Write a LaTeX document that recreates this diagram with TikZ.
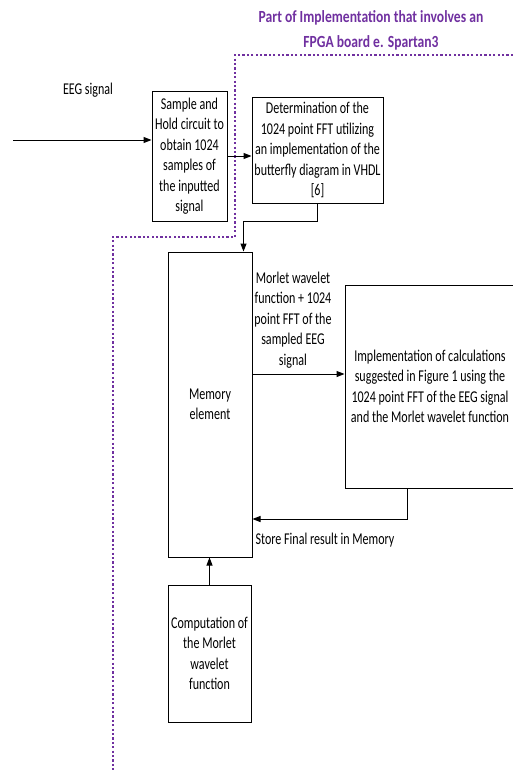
\documentclass[tikz,border=0pt]{standalone}
\usepackage{fontspec}
\setmainfont[FakeStretch=0.73]{Carlito}
\newfontfamily\titlefont[FakeStretch=0.8]{Carlito}
\usepackage{tikz}
\usetikzlibrary{arrows.meta}
\definecolor{FPGAPurple}{HTML}{7030A0}

\begin{document}
\begin{tikzpicture}[x=1pt,y=-1pt,>={Triangle[length=8pt,width=6pt]}]
  \tikzstyle{blk}=[draw,line width=1pt,inner sep=0pt,align=center,
    font=\fontsize{16.5}{20.5}\selectfont]
  \tikzstyle{lbl}=[inner sep=0pt,align=center,
    font=\fontsize{16.5}{20.5}\selectfont]
  \tikzstyle{flow}=[->,line width=1pt]
  \useasboundingbox (0,0) rectangle (513,771);
  % FPGA boundary
  \node[lbl,text=FPGAPurple,font=\titlefont\bfseries\fontsize{17}{25}\selectfont] (fpga)
    at (371,30) {Part of Implementation that involves an\\FPGA board e. Spartan3};
  \draw[FPGAPurple,line width=2.2pt,dash pattern=on 2.2pt off 2.2pt]
    (513,55) -- (235,55) -- (235,237) -- (113,237) -- (113,771);
  % blocks
  \node[blk,minimum width=75pt,minimum height=130pt] (sample) at (189.5,156)
    {Sample and\\Hold circuit to\\obtain 1024\\samples of\\the inputted\\signal};
  \node[blk,minimum width=131pt,minimum height=106pt] (fft) at (317.5,150)
    {Determination of the\\1024 point FFT utilizing\\an implementation of the\\butterfly diagram in VHDL\\{[6]}};
  \node[blk,minimum width=84pt,minimum height=305pt] (mem) at (210,404.5)
    {Memory\\element};
  \node[blk,minimum width=170pt,minimum height=203pt] (impl) at (430,386.5)
    {Implementation of calculations\\suggested in Figure 1 using the\\1024 point FFT of the EEG signal\\and the Morlet wavelet function};
  \node[blk,minimum width=83pt,minimum height=137pt] (comp) at (209.5,653.5)
    {Computation of\\the Morlet\\wavelet\\function};
  % labels
  \node[lbl] (eeg) at (88,90) {EEG signal};
  \node[lbl] (mwl) at (293,320)
    {Morlet wavelet\\function + 1024\\point FFT of the\\sampled EEG\\signal};
  \node[lbl] (store) at (325,540) {Store Final result in Memory};
  \coordinate (in) at (13,140);
  % connectors
  \draw[flow] (in) -- (in -| sample.west);
  \draw[flow] (sample.east) -- (sample.east -| fft.west);
  \draw[flow] (fft.south) -- ++(0,18) -| ([xshift=-9pt]mem.north east);
  \draw[flow] ([yshift=30.5pt]mem.east) -- ([yshift=30.5pt]mem.east -| impl.west);
  \draw[flow] ([xshift=-23pt]impl.south) |- ([yshift=-114.5pt]mem.east);
  \draw[flow] (comp.north) -- (comp.north |- mem.south);
\end{tikzpicture}
\end{document}
